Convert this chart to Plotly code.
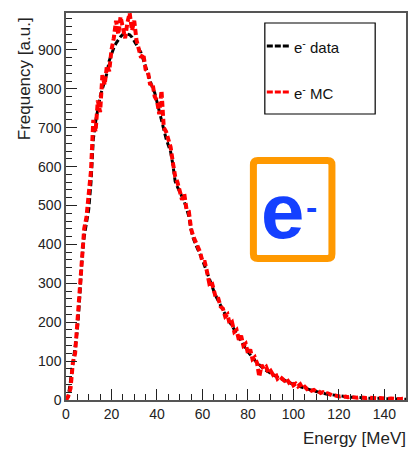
import plotly.graph_objects as go

energy = list(range(0, 151))

data_freq = [0, 8, 50, 90, 135, 180, 260, 360, 420, 455,
             490, 560, 670, 715, 750, 780, 800, 818, 840, 872,
             890, 905, 917, 927, 934, 940, 942, 941, 939, 933,
             922, 913, 903, 893, 875, 857, 833, 815, 803, 790,
             765, 740, 716, 695, 672, 655, 638, 605, 562, 548,
             535, 522, 510, 492, 472, 438, 415, 400, 388, 375,
             360, 344, 327, 310, 295, 280, 266, 254, 240, 230,
             220, 210, 200, 190, 180, 170, 160, 150, 140, 132,
             124, 116, 109, 102, 96, 90, 85, 80, 76, 72,
             68, 65, 62, 59, 56, 53, 50, 47, 44, 42,
             40, 38, 36, 34, 32, 30, 28, 26, 25, 23,
             22, 20, 19, 17, 16, 15, 14, 13, 12, 11,
             10, 9, 9, 8, 8, 7, 7, 7, 6, 6,
             6, 5, 5, 5, 5, 4, 4, 4, 4, 4,
             3, 3, 3, 3, 3, 3, 2, 2, 2, 2, 2]

mc_freq = [0, 10, 30, 95, 120, 200, 280, 330, 440, 470,
           520, 590, 720, 690, 770, 740, 835, 810, 860, 845,
           900, 930, 975, 940, 985, 955, 930, 970, 995, 950,
           975, 925, 905, 880, 890, 850, 845, 810, 815, 780,
           770, 735, 795, 700, 690, 665, 650, 610, 575, 560,
           540, 515, 530, 490, 485, 440, 420, 405, 395, 380,
           355, 355, 330, 300, 305, 285, 260, 260, 240, 235,
           215, 220, 195, 200, 175, 180, 155, 165, 140, 145,
           120, 130, 105, 110, 95, 60, 90, 80, 85, 70,
           75, 65, 70, 55, 60, 55, 50, 55, 45, 50,
           38, 42, 35, 40, 30, 34, 28, 30, 24, 26,
           22, 23, 18, 20, 16, 17, 14, 12, 12, 10,
           9, 10, 8, 9, 7, 8, 7, 8, 6, 7,
           6, 7, 5, 6, 5, 6, 5, 4, 5, 4,
           5, 4, 3, 4, 3, 4, 3, 2, 3, 2, 3]

x_ticks = [0, 20, 40, 60, 80, 100, 120, 140]
y_ticks = [0, 100, 200, 300, 400, 500, 600, 700, 800, 900]

legend_labels = ["e<sup>-</sup> data", "e<sup>-</sup> MC"]

# layout geometry (pixels)
L, R, T, B = 66, 408, 13, 400
W, H = R - L, B - T


def px(xp):
    return (xp - L) / W


def py(yp):
    return (B - yp) / H


fig = go.Figure()
fig.add_trace(go.Scatter(x=energy, y=data_freq, mode="lines",
                         line=dict(color="black", width=3, dash="6px,3px"),
                         name="e- data", showlegend=False))
fig.add_trace(go.Scatter(x=energy, y=mc_freq, mode="lines",
                         line=dict(color="#ff0000", width=4, dash="6px,3px"),
                         name="e- MC", showlegend=False))

axis_common = dict(showline=True, linecolor="#555555", linewidth=1.5, mirror=True,
                   showgrid=False, zeroline=False, ticks="inside",
                   tickcolor="#222222", tickwidth=1.2,
                   tickfont=dict(family="Liberation Sans, Arial", size=14, color="#222222"))

fig.update_layout(
    width=412, height=450,
    margin=dict(l=L, r=412 - R, t=T, b=450 - B),
    paper_bgcolor="white", plot_bgcolor="white",
    xaxis=dict(range=[0, 149.5], tickvals=x_ticks, ticklen=11,
               minor=dict(ticks="inside", dtick=5, ticklen=6, tickcolor="#222222"),
               **axis_common),
    yaxis=dict(range=[0, 995], tickvals=y_ticks, ticklen=11,
               minor=dict(ticks="inside", dtick=20, ticklen=6, tickcolor="#222222"),
               **axis_common),
)

shapes = []
annotations = []

# legend box
shapes.append(dict(type="rect", xref="paper", yref="paper",
                   x0=px(266), x1=px(377), y0=py(114), y1=py(23),
                   line=dict(color="black", width=1.2), fillcolor="white", layer="above"))
for i, (col, yp) in enumerate([("black", 46), ("#ff0000", 92)]):
    shapes.append(dict(type="line", xref="paper", yref="paper",
                       x0=px(268), x1=px(291), y0=py(yp), y1=py(yp),
                       line=dict(color=col, width=3, dash="6px,2px")))
    annotations.append(dict(xref="paper", yref="paper", x=px(293), y=py(yp),
                            xanchor="left", yanchor="middle", showarrow=False,
                            text=legend_labels[i],
                            font=dict(family="Liberation Sans, Arial", size=15, color="#111111")))

# orange box with e-
shapes.append(dict(type="path", xref="paper", yref="paper",
                   path=("M {a},{b} L {c},{b} Q {d},{b} {d},{e} L {d},{f} Q {d},{g} {c},{g} "
                         "L {a},{g} Q {h},{g} {h},{f} L {h},{e} Q {h},{b} {a},{b} Z").format(
                       a=px(259), c=px(329), d=px(333.5), h=px(254.5),
                       b=py(160.5), e=py(165), f=py(254), g=py(258.5)),
                   line=dict(color="#ff9900", width=7), fillcolor="white", layer="above"))
annotations.append(dict(xref="paper", yref="paper", x=px(284), y=py(211),
                        xanchor="center", yanchor="middle", showarrow=False,
                        text="<b>e</b>",
                        font=dict(family="Liberation Sans, Arial", size=78, color="#1440ff")))
annotations.append(dict(xref="paper", yref="paper", x=px(313), y=py(207),
                        xanchor="center", yanchor="middle", showarrow=False,
                        text="<b>-</b>",
                        font=dict(family="Liberation Sans, Arial", size=34, color="#1440ff")))

# axis titles
annotations.append(dict(xref="paper", yref="paper", x=px(410), y=py(438),
                        xanchor="right", yanchor="middle", showarrow=False,
                        text="Energy [MeV]",
                        font=dict(family="Liberation Sans, Arial", size=17, color="#222222")))
annotations.append(dict(xref="paper", yref="paper", x=px(25), y=py(79),
                        xanchor="center", yanchor="middle", showarrow=False,
                        textangle=-90, text="Frequency [a.u.]",
                        font=dict(family="Liberation Sans, Arial", size=17, color="#222222")))

fig.update_layout(shapes=shapes, annotations=annotations)
fig.write_html("out.html")
